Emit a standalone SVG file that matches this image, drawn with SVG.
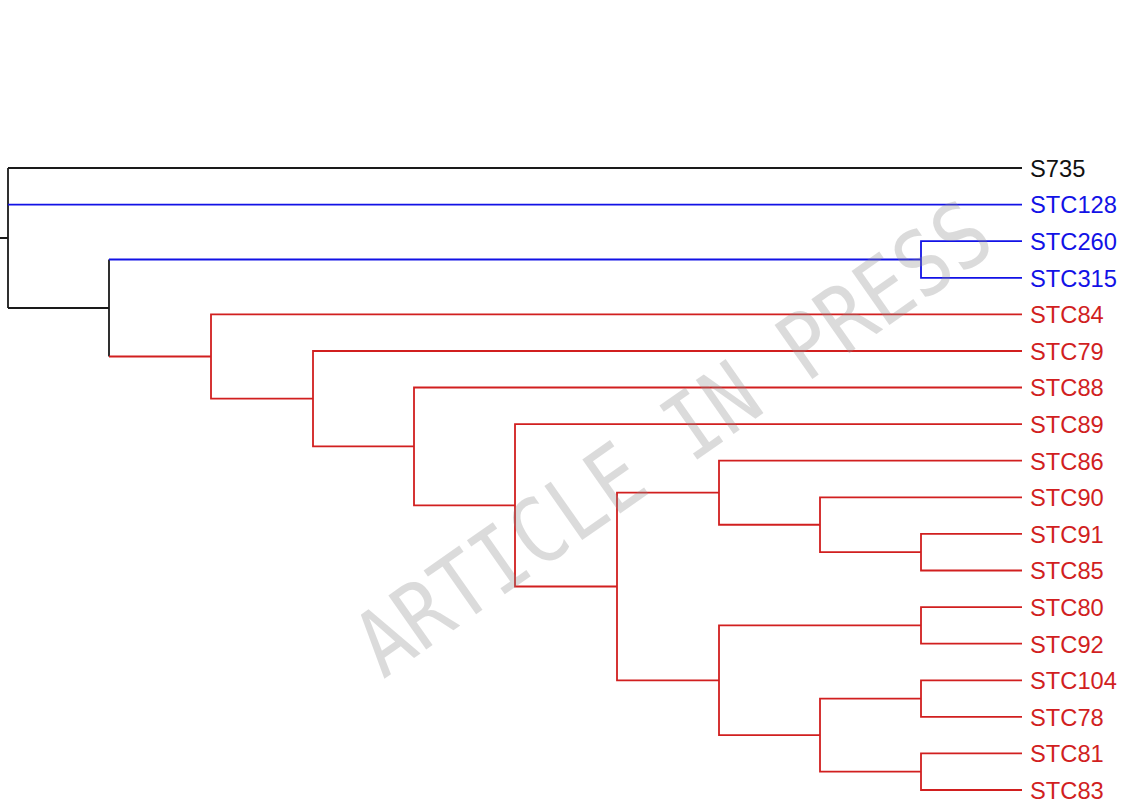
<svg xmlns="http://www.w3.org/2000/svg" width="1124" height="806" viewBox="0 0 1124 806">
<style>
.k{fill:none;stroke:#1a1a1a;stroke-width:1.8}
.b{fill:none;stroke:#1212e6;stroke-width:1.8}
.r{fill:none;stroke:#d11f1f;stroke-width:1.8}
.lbl{font-family:"Liberation Sans",Arial,sans-serif;font-size:23.7px}
.tk{fill:#111}
.tb{fill:#1212e6}
.tr{fill:#d11f1f}
.wm{font-family:"DejaVu Sans Mono","Liberation Mono",monospace;font-size:78px;fill:#8c8c8c;opacity:0.3}
</style>
<rect width="1124" height="806" fill="#fff"/>
<g id="connectors">
<path class="k" d="M0 238 H8 M8 168 V308 M8 168 H1022 M8 308 H109 M109 259.5 V356.5"/>
<path class="b" d="M8 204.6 H1022 M109 259.5 H921 M1022 241.2 H921 V277.8 H1022"/>
<path class="r" d="M109 356.5 H211
M1022 314.4 H211 V398.7 H313
M1022 351 H313 V446.4 H414
M1022 387.5 H414 V505.3 H515
M1022 424.1 H515 V586.5 H617
M719 492.7 H617 V680.3 H719
M1022 460.7 H719 V524.75 H820
M1022 497.3 H820 V552.2 H921
M1022 533.9 H921 V570.5 H1022
M921 625.4 H719 V735.15 H820
M1022 607.1 H921 V643.7 H1022
M921 698.6 H820 V771.7 H921
M1022 680.3 H921 V716.9 H1022
M1022 753.4 H921 V790 H1022"/>
</g>
<g id="leaf-S735"><text class="lbl tk" x="1030" y="176.8">S735</text></g>
<g id="leaf-STC128"><text class="lbl tb" x="1030" y="213.4">STC128</text></g>
<g id="leaf-STC260"><text class="lbl tb" x="1030" y="250">STC260</text></g>
<g id="leaf-STC315"><text class="lbl tb" x="1030" y="286.6">STC315</text></g>
<g id="leaf-STC84"><text class="lbl tr" x="1030" y="323.2">STC84</text></g>
<g id="leaf-STC79"><text class="lbl tr" x="1030" y="359.8">STC79</text></g>
<g id="leaf-STC88"><text class="lbl tr" x="1030" y="396.3">STC88</text></g>
<g id="leaf-STC89"><text class="lbl tr" x="1030" y="432.9">STC89</text></g>
<g id="leaf-STC86"><text class="lbl tr" x="1030" y="469.5">STC86</text></g>
<g id="leaf-STC90"><text class="lbl tr" x="1030" y="506.1">STC90</text></g>
<g id="leaf-STC91"><text class="lbl tr" x="1030" y="542.7">STC91</text></g>
<g id="leaf-STC85"><text class="lbl tr" x="1030" y="579.3">STC85</text></g>
<g id="leaf-STC80"><text class="lbl tr" x="1030" y="615.9">STC80</text></g>
<g id="leaf-STC92"><text class="lbl tr" x="1030" y="652.5">STC92</text></g>
<g id="leaf-STC104"><text class="lbl tr" x="1030" y="689.1">STC104</text></g>
<g id="leaf-STC78"><text class="lbl tr" x="1030" y="725.7">STC78</text></g>
<g id="leaf-STC81"><text class="lbl tr" x="1030" y="762.2">STC81</text></g>
<g id="leaf-STC83"><text class="lbl tr" x="1030" y="798.8">STC83</text></g>
<g id="watermark" transform="translate(672 437) rotate(-35) scale(1 1.16)">
<text class="wm" x="0" y="28.4" text-anchor="middle">ARTICLE IN PRESS</text>
</g>
</svg>
